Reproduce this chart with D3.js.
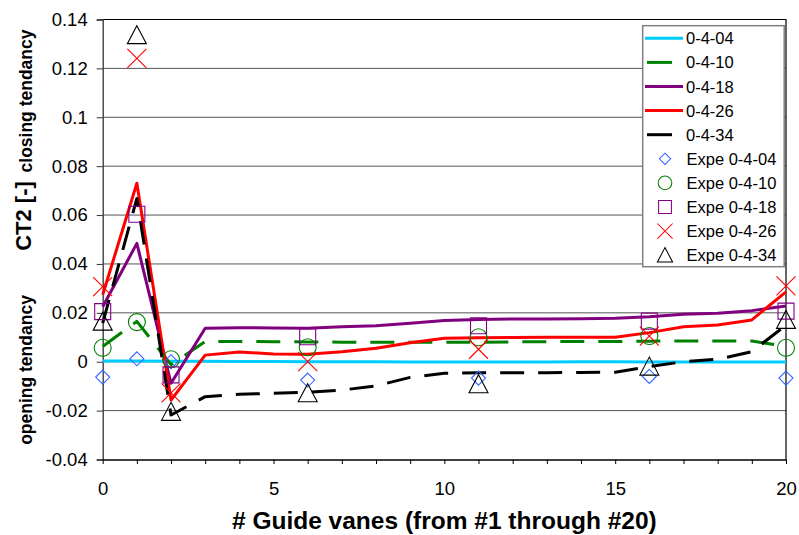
<!DOCTYPE html>
<html>
<head>
<meta charset="utf-8">
<script src="https://cdn.jsdelivr.net/npm/d3@7"></script>
<style>
body { margin: 0; background: #fff; }
svg { font-family: "Liberation Sans", Arial, sans-serif; }
</style>
</head>
<body>
<script>
// guide vane positions (model) and measured positions
const vanes = [0, 1, 2, 3, 4, 5, 6, 7, 8, 9, 10, 11, 12, 13, 14, 15, 16, 17, 18, 19, 20];
const expVanes = [0, 1, 2, 6, 11, 16, 20];

// computed CT2 per opening
const ct2_04 = [0.0003, 0.0003, 0.0002, 0.0002, 0.0001, 0.0001, 0, 0, 0, -0.0001, -0.0001, -0.0001, -0.0001, -0.0001, 0, 0, -0.0001, -0.0001, -0.0001, -0.0001, -0.0001];
const ct2_10 = [0.0062, 0.0165, -0.0012, 0.0083, 0.0083, 0.0082, 0.0081, 0.008, 0.008, 0.008, 0.008, 0.008, 0.0081, 0.0082, 0.0083, 0.0083, 0.0084, 0.0085, 0.0085, 0.0085, 0.0062];
const ct2_18 = [0.0225, 0.0484, -0.0088, 0.0137, 0.0139, 0.0138, 0.0137, 0.0143, 0.0147, 0.0157, 0.0169, 0.0173, 0.0175, 0.0175, 0.0176, 0.0178, 0.0184, 0.0194, 0.0198, 0.0209, 0.0228];
const ct2_26 = [0.0274, 0.073, -0.0157, 0.0027, 0.004, 0.0032, 0.0031, 0.0041, 0.0055, 0.0078, 0.0096, 0.0098, 0.0099, 0.01, 0.01, 0.01, 0.0119, 0.0143, 0.015, 0.0171, 0.0286];
const ct2_34 = [0.0158, 0.0668, -0.0218, -0.0143, -0.0133, -0.0129, -0.0125, -0.0116, -0.0099, -0.0064, -0.0047, -0.0045, -0.0045, -0.0045, -0.0044, -0.0043, -0.002, 0, 0.001, 0.0041, 0.015];

// measured CT2
const exp_04 = [-0.0063, 0.0012, 0, -0.0075, -0.0067, -0.006, -0.0067];
const exp_10 = [0.0057, 0.0162, 0.001, 0.0059, 0.01, 0.0105, 0.0057];
const exp_18 = [0.0205, 0.0603, -0.0054, 0.0102, 0.0147, 0.0166, 0.0207];
const exp_26 = [0.0307, 0.1241, -0.0127, 0, 0.0051, 0.0105, 0.031];
const exp_34 = [0.0164, 0.1336, -0.0205, -0.0129, -0.0092, -0.002, 0.0171];

const yTicks = [-0.04, -0.02, 0, 0.02, 0.04, 0.06, 0.08, 0.1, 0.12, 0.14];
const yTickLabels = ["-0.04", "-0.02", "0", "0.02", "0.04", "0.06", "0.08", "0.1", "0.12", "0.14"];
const xTicks = [0, 1, 2, 3, 4, 5, 6, 7, 8, 9, 10, 11, 12, 13, 14, 15, 16, 17, 18, 19, 20];
const xTickLabels = ["0", "", "", "", "", "5", "", "", "", "", "10", "", "", "", "", "15", "", "", "", "", "20"];

const lineSeries = [
    {name: "0-4-04", values: ct2_04, color: "#00CCFF", dash: null},
    {name: "0-4-10", values: ct2_10, color: "#008000", dash: "24,14"},
    {name: "0-4-18", values: ct2_18, color: "#800080", dash: null},
    {name: "0-4-26", values: ct2_26, color: "#FF0000", dash: null},
    {name: "0-4-34", values: ct2_34, color: "#000000", dash: "24,14"}
];

// marker shapes, centred on 0,0
function diamond() { return "M0,-7L7,0L0,7L-7,0Z"; }
function circle() { return "M8.5,0A8.5,8.5 0 1,1 -8.5,0A8.5,8.5 0 1,1 8.5,0Z"; }
function square() { return "M-8,-8H8V8H-8Z"; }
function cross() { return "M-9.5,-9.5L9.5,9.5M9.5,-9.5L-9.5,9.5"; }
function triangle() { return "M0,-9.5L9.5,8.5H-9.5Z"; }

const expSeries = [
    {name: "Expe 0-4-04", values: exp_04, color: "#3366FF", shape: diamond},
    {name: "Expe 0-4-10", values: exp_10, color: "#008000", shape: circle},
    {name: "Expe 0-4-18", values: exp_18, color: "#800080", shape: square},
    {name: "Expe 0-4-26", values: exp_26, color: "#FF0000", shape: cross},
    {name: "Expe 0-4-34", values: exp_34, color: "#000000", shape: triangle}
];

const W = 799, H = 535;
const plotLeft = 102.7, plotRight = 786, plotTop = 19.5, plotBottom = 459.5;

var svg = d3.select("body")
    .append("svg")
    .attr("width", W)
    .attr("height", H);

var x = d3.scaleLinear().domain([0, 20]).range([plotLeft, plotRight]);
var y = d3.scaleLinear().domain([-0.04, 0.14]).range([plotBottom, plotTop]);

// horizontal gridlines
svg.append("g")
    .selectAll("line")
    .data(yTicks.slice(1, -1))
    .join("line")
    .attr("x1", plotLeft)
    .attr("x2", plotRight)
    .attr("y1", d => y(d))
    .attr("y2", d => y(d))
    .attr("stroke", "#555")
    .attr("stroke-width", 1);

// frame top + right
svg.append("path")
    .attr("d", `M${plotLeft},${y(0.14)}H${plotRight}V${plotBottom}`)
    .attr("fill", "none")
    .attr("stroke", "#000")
    .attr("stroke-width", 1.2);

// y axis
var yAxis = svg.append("g")
    .attr("transform", `translate(${plotLeft},0)`)
    .call(d3.axisLeft(y).tickValues(yTicks).tickSize(6).tickPadding(9)
        .tickFormat((d, i) => yTickLabels[i]));
yAxis.select(".domain").attr("stroke", "#333").attr("stroke-width", 1.3);
yAxis.selectAll(".tick line").attr("stroke", "#333");
yAxis.selectAll("text")
    .attr("font-family", null)
    .attr("font-size", 18.5)
    .attr("fill", "#000");

// x axis
var xAxis = svg.append("g")
    .attr("transform", `translate(0,${plotBottom})`)
    .call(d3.axisBottom(x).tickValues(xTicks).tickSize(4.5).tickPadding(17.5)
        .tickSizeOuter(0)
        .tickFormat((d, i) => xTickLabels[i]));
xAxis.select(".domain").attr("stroke", "#000").attr("stroke-width", 1.3);
xAxis.selectAll(".tick line").attr("stroke", "#000");
xAxis.selectAll("text")
    .attr("font-family", null)
    .attr("font-size", 18.5)
    .attr("fill", "#000");

// model lines
var line = d3.line()
    .x((d, i) => x(vanes[i]))
    .y(d => y(d));

svg.append("g")
    .selectAll("path")
    .data(lineSeries)
    .join("path")
    .attr("d", d => line(d.values))
    .attr("fill", "none")
    .attr("stroke", d => d.color)
    .attr("stroke-width", 3)
    .attr("stroke-linejoin", "round")
    .attr("stroke-dasharray", d => d.dash);

// measured points
expSeries.forEach(s => {
    svg.append("g")
        .selectAll("path")
        .data(s.values)
        .join("path")
        .attr("transform", (d, i) => `translate(${x(expVanes[i])},${y(d)})`)
        .attr("d", s.shape())
        .attr("fill", "none")
        .attr("stroke", s.color)
        .attr("stroke-width", 1.1);
});

// axis titles
svg.append("text")
    .attr("x", (plotLeft + plotRight) / 2)
    .attr("y", 529)
    .attr("text-anchor", "middle")
    .attr("font-size", 24.5)
    .attr("font-weight", "bold")
    .text("# Guide vanes (from #1 through #20)");

svg.append("text")
    .attr("transform", "translate(23,216) rotate(-90)")
    .attr("text-anchor", "middle")
    .attr("dominant-baseline", "central")
    .attr("font-size", 22)
    .attr("font-weight", "bold")
    .text("CT2 [-]");

svg.append("text")
    .attr("transform", "translate(26,101) rotate(-90)")
    .attr("text-anchor", "middle")
    .attr("dominant-baseline", "central")
    .attr("font-size", 17.5)
    .attr("font-weight", "bold")
    .text("closing tendancy");

svg.append("text")
    .attr("transform", "translate(26,370) rotate(-90)")
    .attr("text-anchor", "middle")
    .attr("dominant-baseline", "central")
    .attr("font-size", 17.5)
    .attr("font-weight", "bold")
    .text("opening tendancy");

// legend
var legend = svg.append("g");
legend.append("rect")
    .attr("x", 642.7)
    .attr("y", 25.7)
    .attr("width", 141.5)
    .attr("height", 241)
    .attr("fill", "#fff")
    .attr("stroke", "#808080")
    .attr("stroke-width", 1.5);

const rowH = 24.1, row0 = 38.3;

lineSeries.forEach((s, i) => {
    let cy = row0 + i * rowH;
    legend.append("line")
        .attr("x1", s.dash ? 647 : 645)
        .attr("x2", s.dash ? 672 : 683)
        .attr("y1", cy)
        .attr("y2", cy)
        .attr("stroke", s.color)
        .attr("stroke-width", 3);
    legend.append("text")
        .attr("x", 686)
        .attr("y", cy)
        .attr("dominant-baseline", "central")
        .attr("font-size", 16.5)
        .text(s.name);
});

expSeries.forEach((s, i) => {
    let cy = row0 + (i + 5) * rowH;
    legend.append("path")
        .attr("transform", `translate(665,${cy}) scale(0.8)`)
        .attr("d", s.shape())
        .attr("fill", "none")
        .attr("stroke", s.color)
        .attr("stroke-width", 1.3);
    legend.append("text")
        .attr("x", 686.5)
        .attr("y", cy)
        .attr("dominant-baseline", "central")
        .attr("font-size", 16.5)
        .text(s.name);
});
</script>
</body>
</html>
